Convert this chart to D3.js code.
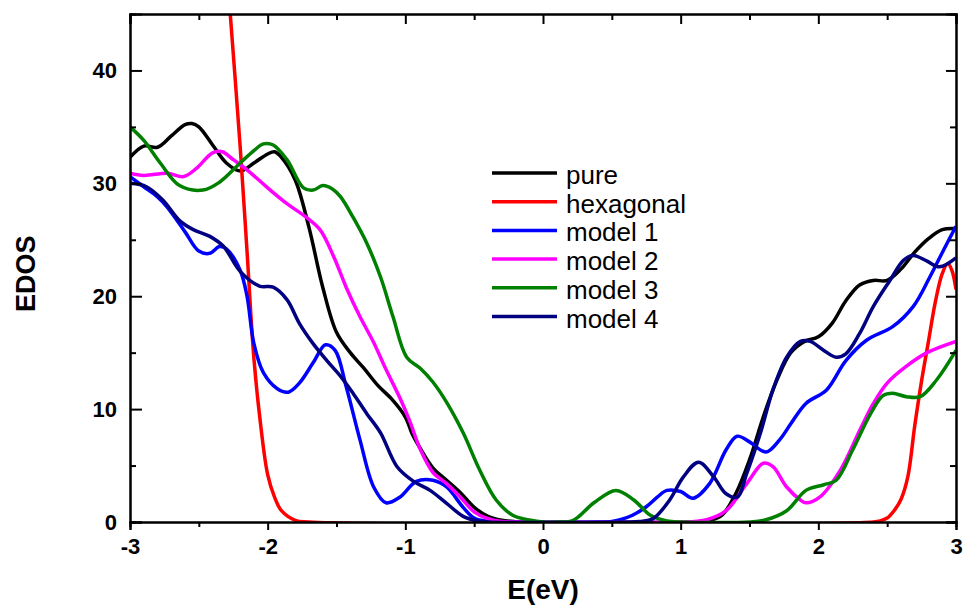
<!DOCTYPE html>
<html>
<head>
<meta charset="utf-8">
<script src="https://cdn.jsdelivr.net/npm/d3@7/dist/d3.min.js"></script>
<style>
body{margin:0;background:#fff}
text{font-family:"Liberation Sans",Arial,sans-serif}
</style>
</head>
<body>
<div class="edos-chart"></div>
<script>
// tick values
const xTicks=[-3,-2,-1,0,1,2,3];
const yTicks=[0,10,20,30,40];

// series names + colours (legend order)
const names=["pure","hexagonal","model 1","model 2","model 3","model 4"];
const colors=["#000000","#ff0000","#0000ff","#ff00ff","#008000","#000080"];

// [E(eV), EDOS]
const pure=[[-3,32.3],[-2.9,33.3],[-2.8,33.2],[-2.7,34.2],[-2.6,35.2],[-2.55,35.3],[-2.5,35.0],[-2.4,33.4],[-2.3,31.8],[-2.2,31.1],[-2.1,31.8],[-2,32.6],[-1.95,32.8],[-1.9,32.3],[-1.8,30.3],[-1.7,26.1],[-1.6,20.8],[-1.5,16.8],[-1.4,15.0],[-1.3,13.6],[-1.2,12.1],[-1.1,10.9],[-1.0,9.3],[-0.95,7.8],[-0.9,6.7],[-0.8,4.8],[-0.7,3.7],[-0.6,2.6],[-0.5,1.3],[-0.4,0.5],[-0.3,0.15],[-0.2,0.03],[-0.1,0],[1.1,0],[1.2,0.1],[1.3,0.6],[1.4,2.5],[1.5,5.5],[1.6,9.3],[1.7,12.6],[1.8,15.0],[1.9,16.0],[2.0,16.4],[2.1,17.6],[2.2,19.6],[2.3,21.0],[2.4,21.4],[2.5,21.4],[2.6,22.4],[2.7,23.9],[2.8,25.1],[2.9,25.9],[3.0,26.0]];
const hexagonal=[[-2.3,49.5],[-2.25,41.5],[-2.2,33.3],[-2.15,24],[-2.1,14.5],[-2.05,8.5],[-2.0,4.2],[-1.95,2.2],[-1.9,1.0],[-1.8,0.15],[-1.7,0],[2.4,0],[2.45,0.1],[2.5,0.35],[2.55,1.0],[2.6,2.0],[2.65,4.0],[2.7,8.5],[2.75,12.5],[2.8,16.0],[2.85,19.5],[2.9,22.0],[2.94,22.9],[2.97,22.3],[3.0,20.6]];
const model1=[[-3,30.6],[-2.9,29.7],[-2.8,28.8],[-2.73,27.9],[-2.6,25.7],[-2.5,24.0],[-2.42,23.8],[-2.35,24.4],[-2.3,24.2],[-2.2,22.3],[-2.15,20.0],[-2.1,15.8],[-2.03,13.2],[-1.93,11.8],[-1.85,11.5],[-1.77,12.3],[-1.67,14.1],[-1.58,15.7],[-1.51,15.2],[-1.43,12.0],[-1.33,7.3],[-1.23,3.1],[-1.14,1.7],[-1.04,2.2],[-0.92,3.6],[-0.8,3.7],[-0.7,3.1],[-0.58,1.3],[-0.5,0.35],[-0.4,0.05],[-0.3,0],[0.4,0],[0.5,0.05],[0.56,0.2],[0.65,0.6],[0.75,1.35],[0.83,2.2],[0.9,2.8],[1.0,2.7],[1.09,2.1],[1.21,3.4],[1.33,6.4],[1.41,7.6],[1.5,7.1],[1.62,6.2],[1.72,7.3],[1.8,8.7],[1.91,10.5],[2.06,11.7],[2.2,14.3],[2.35,16.1],[2.54,17.3],[2.69,19.1],[2.81,21.7],[2.91,24.1],[3.0,26.2]];
const model2=[[-3,30.9],[-2.9,30.7],[-2.73,30.9],[-2.61,30.6],[-2.52,31.3],[-2.4,32.7],[-2.33,32.8],[-2.25,32.1],[-2.15,31.2],[-2.0,29.6],[-1.86,28.2],[-1.72,27.0],[-1.62,25.9],[-1.52,23.5],[-1.43,20.8],[-1.33,18.2],[-1.23,15.9],[-1.14,13.5],[-1.04,11.0],[-0.97,9.0],[-0.89,6.4],[-0.8,4.4],[-0.7,3.4],[-0.6,2.2],[-0.5,0.9],[-0.41,0.35],[-0.3,0.05],[-0.2,0],[1.0,0],[1.1,0.05],[1.19,0.2],[1.33,1.0],[1.48,3.4],[1.6,5.2],[1.67,4.9],[1.77,3.1],[1.87,1.95],[1.91,1.7],[2.01,2.2],[2.16,4.6],[2.3,8.1],[2.4,10.5],[2.5,12.3],[2.64,13.8],[2.79,15.0],[3.0,16.0]];
const model3=[[-3,35.0],[-2.9,33.8],[-2.78,31.8],[-2.64,29.8],[-2.47,29.4],[-2.35,30.1],[-2.2,31.8],[-2.1,32.9],[-2.03,33.5],[-1.96,33.4],[-1.86,32.1],[-1.74,29.6],[-1.67,29.4],[-1.6,29.8],[-1.53,29.5],[-1.47,28.8],[-1.38,27.0],[-1.28,24.7],[-1.18,21.7],[-1.09,18.2],[-0.99,14.6],[-0.89,13.6],[-0.8,12.4],[-0.7,10.6],[-0.58,7.9],[-0.46,4.6],[-0.34,1.95],[-0.22,0.6],[-0.09,0.15],[0,0],[0.1,0],[0.22,0.15],[0.37,1.7],[0.53,2.8],[0.66,1.95],[0.78,0.6],[0.9,0.1],[1.0,0],[1.5,0],[1.62,0.2],[1.77,1.0],[1.91,2.8],[2.04,3.3],[2.13,3.7],[2.25,6.4],[2.38,9.6],[2.47,11.2],[2.54,11.4],[2.64,11.1],[2.74,11.1],[2.86,12.6],[3.0,15.2]];
const model4=[[-3,30.0],[-2.88,29.7],[-2.76,28.5],[-2.64,26.7],[-2.54,25.9],[-2.42,25.3],[-2.32,24.4],[-2.2,22.2],[-2.06,20.9],[-1.96,20.8],[-1.86,19.7],[-1.77,17.6],[-1.67,15.8],[-1.57,14.3],[-1.47,12.9],[-1.38,11.4],[-1.28,9.6],[-1.18,7.9],[-1.06,4.9],[-0.94,3.6],[-0.82,2.8],[-0.7,1.65],[-0.58,0.5],[-0.48,0.1],[-0.4,0],[0.6,0],[0.7,0.05],[0.8,0.3],[0.92,1.95],[1.02,4.0],[1.13,5.3],[1.24,4.0],[1.33,2.5],[1.41,2.2],[1.48,4.3],[1.58,7.9],[1.67,11.7],[1.77,14.6],[1.87,16.0],[1.94,16.0],[2.04,15.2],[2.13,14.6],[2.2,14.9],[2.3,16.7],[2.4,19.1],[2.52,21.4],[2.62,23.2],[2.69,23.6],[2.79,23.1],[2.88,22.6],[3.0,23.4]];

const seriesData=[pure,hexagonal,model1,model2,model3,model4];

const margin={left:130,right:12,top:14,bottom:88};
const outerWidth=968, outerHeight=610;
const width=outerWidth-margin.left-margin.right;
const height=outerHeight-margin.top-margin.bottom;

const svg=d3.select(".edos-chart").append("svg")
  .attr("width",outerWidth)
  .attr("height",outerHeight);
const g=svg.append("g")
  .attr("transform",`translate(${margin.left}, ${margin.top})`);

const xScale=d3.scaleLinear().domain([-3,3]).range([0,width]);
const yScale=d3.scaleLinear().domain([0,45]).range([height,0]);

// clip a little below zero so the flat parts keep their full stroke
svg.append("defs").append("clipPath").attr("id","plot-clip")
  .append("rect").attr("width",width).attr("height",height+1);

const line=d3.line()
  .x(d=>xScale(d[0]))
  .y(d=>yScale(d[1]))
  .curve(d3.curveCatmullRom.alpha(0.5));

const lines=g.append("g").attr("clip-path","url(#plot-clip)");
seriesData.forEach((s,i)=>{
  lines.append("path")
    .datum(s)
    .attr("fill","none")
    .attr("stroke",colors[i])
    .attr("stroke-width",3.5)
    .attr("stroke-linejoin","round")
    .attr("d",line);
});

// minor ticks
const xMinor=d3.range(-2.5,3,1);
const yMinor=d3.range(5,45,10);
const fmt=d=>String(d);   // plain hyphen like the original

function styleAxis(sel){
  sel.select(".domain").attr("stroke","#000").attr("stroke-width",2);
  sel.selectAll(".tick line").attr("stroke","#000").attr("stroke-width",2);
}
function boldText(sel){
  sel.selectAll("text").attr("font-size",22).attr("font-weight","bold").attr("fill","#000");
}

// bottom
g.append("g").attr("transform",`translate(0, ${height})`)
  .call(d3.axisBottom(xScale).tickValues(xTicks).tickSize(8).tickPadding(8).tickFormat(fmt))
  .call(styleAxis)
  .call(boldText);
g.append("g").attr("transform",`translate(0, ${height})`)
  .call(d3.axisBottom(xScale).tickValues(xMinor).tickSize(5).tickFormat(""))
  .call(styleAxis);
// top
g.append("g")
  .call(d3.axisBottom(xScale).tickValues(xTicks).tickSize(10).tickFormat(""))
  .call(styleAxis);
g.append("g")
  .call(d3.axisBottom(xScale).tickValues(xMinor).tickSize(6).tickFormat(""))
  .call(styleAxis);
// left
g.append("g")
  .call(d3.axisRight(yScale).tickValues(yTicks).tickSize(12).tickFormat(""))
  .call(styleAxis);
g.append("g")
  .call(d3.axisRight(yScale).tickValues(yMinor).tickSize(6).tickFormat(""))
  .call(styleAxis);
g.append("g")
  .call(d3.axisLeft(yScale).tickValues(yTicks).tickSize(0).tickPadding(13).tickFormat(fmt))
  .call(a=>a.select(".domain").remove())
  .call(boldText);
// right
g.append("g").attr("transform",`translate(${width}, 0)`)
  .call(d3.axisLeft(yScale).tickValues(yTicks).tickSize(10).tickFormat(""))
  .call(styleAxis);
g.append("g").attr("transform",`translate(${width}, 0)`)
  .call(d3.axisLeft(yScale).tickValues(yMinor).tickSize(6).tickFormat(""))
  .call(styleAxis);

// axis titles
svg.append("text")
  .attr("x",margin.left+xScale(0))
  .attr("y",599)
  .attr("text-anchor","middle")
  .attr("font-size",28)
  .attr("font-weight","bold")
  .text("E(eV)");
svg.append("text")
  .attr("transform",`translate(35, ${margin.top+yScale(22)}) rotate(-90)`)
  .attr("text-anchor","middle")
  .attr("font-size",27)
  .attr("font-weight","bold")
  .text("EDOS");

// legend
const legend=svg.append("g").attr("transform","translate(492, 173)");
names.forEach((n,i)=>{
  const row=legend.append("g").attr("transform",`translate(0, ${i*28.7})`);
  row.append("line").attr("x1",0).attr("x2",65).attr("y1",0).attr("y2",0)
    .attr("stroke",colors[i]).attr("stroke-width",3.5);
  row.append("text").attr("x",74).attr("y",11).attr("font-size",26).attr("fill","#000").text(n);
});
</script>
</body>
</html>
